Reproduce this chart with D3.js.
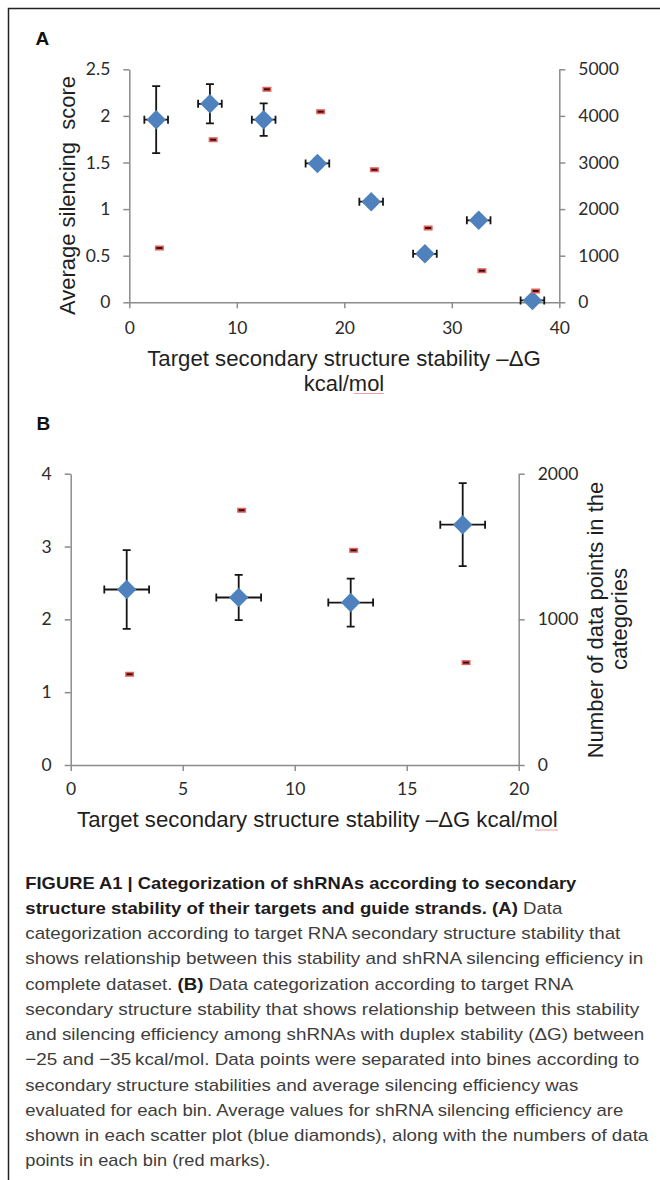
<!DOCTYPE html>
<html>
<head>
<meta charset="utf-8">
<script src="https://cdn.jsdelivr.net/npm/d3@7"></script>
<style>
  body { margin: 0; background: #fff; }
  svg { display: block; }
  .tick text { font-family: Lato, "Open Sans", sans-serif; font-size: 17.5px; fill: #2b2b2b; }
  .title { font-family: "Liberation Sans", Arial, sans-serif; font-size: 22px; fill: #1f1f1f; white-space: pre; }
  .caption { font-family: "Liberation Sans Narrow", "Liberation Sans", Arial, sans-serif; font-size: 17px; white-space: pre; }
</style>
</head>
<body>
<svg id="fig" width="660" height="1180"></svg>
<script>
// panel A: all shRNAs
const binsA = [2.5, 7.5, 12.5, 17.5, 22.5, 27.5, 32.5, 37.5];
const scoreA = [1.96, 2.13, 1.96, 1.49, 1.08, 0.52, 0.88, 0.02];
const scoreErrA = [0.36, 0.21, 0.175, 0.05, 0.05, 0.05, 0.05, 0.05];
const binErrA = 1.1;
const countXA = [2.8, 7.8, 12.8, 17.8, 22.8, 27.8, 32.8, 37.8];
const countA = [1165, 3489, 4571, 4090, 2845, 1594, 678, 242];
const xTicksA = [0, 10, 20, 30, 40];
const yTicksA = [0, 0.5, 1, 1.5, 2, 2.5];
const y2TicksA = [0, 1000, 2000, 3000, 4000, 5000];

// panel B: duplex stability between -25 and -35 kcal/mol
const binsB = [2.5, 7.5, 12.5, 17.5];
const scoreB = [2.41, 2.30, 2.23, 3.30];
const scoreErrB = [0.54, 0.31, 0.33, 0.57];
const binErrB = 1;
const countXB = [2.63, 7.63, 12.63, 17.65];
const countB = [623, 1749, 1474, 703];
const xTicksB = [0, 5, 10, 15, 20];
const yTicksB = [0, 1, 2, 3, 4];
const y2TicksB = [0, 1000, 2000];

const caption = [
  [['FIGURE A1 | Categorization of shRNAs according to secondary', true]],
  [['structure stability of their targets and guide strands. (A)', true], [' Data', false]],
  [['categorization according to target RNA secondary structure stability that', false]],
  [['shows relationship between this stability and shRNA silencing efficiency in', false]],
  [['complete dataset. ', false], ['(B)', true], [' Data categorization according to target RNA', false]],
  [['secondary structure stability that shows relationship between this stability', false]],
  [['and silencing efficiency among shRNAs with duplex stability (\u0394G) between', false]],
  [['\u221225 and \u221235\u2009kcal/mol. Data points were separated into bines according to', false]],
  [['secondary structure stabilities and average silencing efficiency was', false]],
  [['evaluated for each bin. Average values for shRNA silencing efficiency are', false]],
  [['shown in each scatter plot (blue diamonds), along with the numbers of data', false]],
  [['points in each bin (red marks).', false]],
];
const captionWidths = [551, 537, 595, 618, 548, 614, 619, 614, 553, 598, 623, 245];

const svg = d3.select('#fig');
const blue = '#4f81bd';
const axisGrey = '#8c8c8c';

// square diamond (rotated square) marker
const diamond = {
  draw(ctx, size) {
    const r = Math.sqrt(size / 2);
    ctx.moveTo(0, -r); ctx.lineTo(r, 0); ctx.lineTo(0, r); ctx.lineTo(-r, 0); ctx.closePath();
  }
};

function styleAxis(g) {
  g.attr('font-size', null).attr('font-family', null);
  g.select('.domain').attr('stroke', axisGrey).attr('stroke-width', 1.5);
  g.selectAll('.tick line').attr('stroke', axisGrey).attr('stroke-width', 1.5);
}

function drawPanel(p) {
  const x = d3.scaleLinear().domain(p.xDomain).range([p.box.l, p.box.r]);
  const y = d3.scaleLinear().domain(p.yDomain).range([p.box.b, p.box.t]);
  const y2 = d3.scaleLinear().domain(p.y2Domain).range([p.box.b, p.box.t]);
  const fmt = (d) => String(d);

  svg.append('g').attr('transform', `translate(0,${p.box.b})`)
    .call(d3.axisBottom(x).tickValues(p.xTicks).tickFormat(fmt).tickSize(6).tickSizeOuter(0).tickPadding(p.xPad))
    .call(styleAxis);
  svg.append('g').attr('transform', `translate(${p.box.l},0)`)
    .call(d3.axisLeft(y).tickValues(p.yTicks).tickFormat(fmt).tickSize(6).tickSizeOuter(0).tickPadding(13))
    .call(styleAxis);
  svg.append('g').attr('transform', `translate(${p.box.r},0)`)
    .call(d3.axisRight(y2).tickValues(p.y2Ticks).tickFormat(fmt).tickSize(6).tickSizeOuter(0).tickPadding(13))
    .call(styleAxis);

  const pts = p.bins.map((b, i) => ({ b, s: p.score[i], e: p.scoreErr[i] }));
  const eb = svg.append('g').attr('stroke', '#151515').attr('stroke-width', 1.8).attr('fill', 'none');
  const cap = 4;
  pts.forEach((d) => {
    const cx = x(d.b), cy = y(d.s);
    const x0 = x(d.b - p.binErr), x1 = x(d.b + p.binErr);
    const y0 = y(d.s - d.e), y1 = y(d.s + d.e);
    eb.append('path').attr('d',
      `M${cx},${y0}V${y1}M${cx - cap},${y0}H${cx + cap}M${cx - cap},${y1}H${cx + cap}` +
      `M${x0},${cy}H${x1}M${x0},${cy - cap}V${cy + cap}M${x1},${cy - cap}V${cy + cap}`);
  });

  svg.append('g').selectAll('path').data(pts).join('path')
    .attr('d', d3.symbol(diamond, 190))
    .attr('transform', (d) => `translate(${x(d.b)},${y(d.s)})`)
    .attr('fill', blue);

  const cnt = p.countX.map((cx, i) => ({ cx, n: p.count[i] }));
  const marks = svg.append('g').selectAll('g').data(cnt).join('g')
    .attr('transform', (d) => `translate(${x(d.cx)},${y2(d.n)})`);
  marks.append('rect').attr('x', -4.5).attr('y', -2.5).attr('width', 9).attr('height', 5).attr('fill', '#e2605c');
  marks.append('rect').attr('x', -3).attr('y', -1).attr('width', 6).attr('height', 2).attr('fill', '#3a0d0d');
}

drawPanel({
  box: { l: 129.3, r: 559.3, t: 69.3, b: 302.3 },
  xDomain: [0, 40], yDomain: [0, 2.5], y2Domain: [0, 5000],
  xTicks: xTicksA, yTicks: yTicksA, y2Ticks: y2TicksA, xPad: 13.4,
  bins: binsA, score: scoreA, scoreErr: scoreErrA, binErr: binErrA,
  countX: countXA, count: countA,
});

drawPanel({
  box: { l: 70.7, r: 518.7, t: 473.7, b: 765 },
  xDomain: [0, 20], yDomain: [0, 4], y2Domain: [0, 2000],
  xTicks: xTicksB, yTicks: yTicksB, y2Ticks: y2TicksB, xPad: 12,
  bins: binsB, score: scoreB, scoreErr: scoreErrB, binErr: binErrB,
  countX: countXB, count: countB,
});

// frame
svg.append('path').attr('d', 'M8.5,1180V8.5H660').attr('fill', 'none').attr('stroke', '#222').attr('stroke-width', 1.5);

// panel letters
svg.append('text').attr('x', 35.5).attr('y', 44.5).text('A')
  .attr('font-family', 'Liberation Sans, Arial, sans-serif').attr('font-weight', 'bold').attr('font-size', 19).attr('fill', '#111');
svg.append('text').attr('x', 36.5).attr('y', 429.5).text('B')
  .attr('font-family', 'Liberation Sans, Arial, sans-serif').attr('font-weight', 'bold').attr('font-size', 19).attr('fill', '#111');

// axis titles
function title(txt, x, y, len, rotate) {
  const t = svg.append('text').attr('class', 'title').attr('text-anchor', 'middle')
    .attr('textLength', len).attr('lengthAdjust', 'spacingAndGlyphs').text(txt);
  if (rotate) t.attr('transform', `translate(${x},${y}) rotate(-90)`);
  else t.attr('x', x).attr('y', y);
  return t;
}
title('Average silencing  score', 75, 195.5, 239, true);
title('Target secondary structure stability \u2013\u0394G', 344, 366, 393.5);
title('kcal/mol', 344, 391, 80.4);
title('Target secondary structure stability \u2013\u0394G kcal/mol', 317.4, 827, 480.6);
title('Number of data points in the', 603, 620, 276.6, true);
title('categories', 627, 619, 102, true);

// spell-check squiggles under "mol"
svg.append('path').attr('d', 'M354,393.5H384M535,830H558').attr('stroke', '#f0a0a0').attr('stroke-width', 1.2);

// caption
caption.forEach((segs, i) => {
  const t = svg.append('text').attr('class', 'caption')
    .attr('x', 25.3).attr('y', 888.5 + i * 25.25)
    .attr('textLength', captionWidths[i]).attr('lengthAdjust', 'spacingAndGlyphs');
  segs.forEach(([s, bold]) => {
    t.append('tspan').text(s)
      .attr('font-weight', bold ? 'bold' : 'normal')
      .attr('fill', bold ? '#1e1b1c' : '#3d3d3d');
  });
});
</script>
</body>
</html>
